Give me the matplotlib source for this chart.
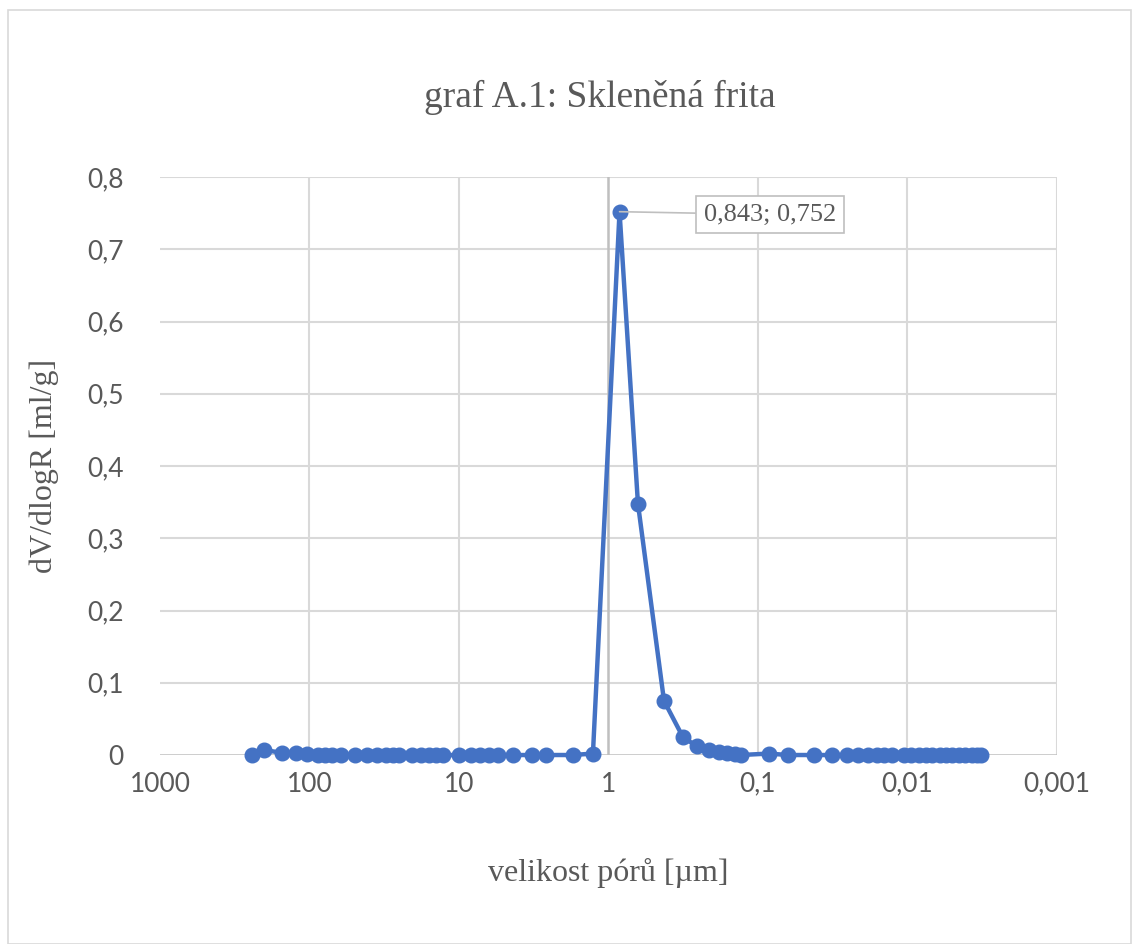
import matplotlib.pyplot as plt
from matplotlib.patches import Rectangle

# pore size [um] and dV/dlogR [ml/g]
velikost = [242.5, 201, 153, 123, 104, 87.7, 78.7, 70.6, 61.5, 49.6,
            41.2, 35.3, 30.8, 27.6, 25.2, 20.6, 17.9, 15.9, 14.3, 12.8,
            10.0, 8.3, 7.24, 6.3, 5.49, 4.35, 3.25, 2.62, 1.73, 1.27,
            0.843, 0.635, 0.425, 0.318, 0.256, 0.213, 0.182, 0.161, 0.1425, 0.130,
            0.0844, 0.063, 0.0422, 0.032, 0.0254, 0.0214, 0.0184, 0.016, 0.0144, 0.0127,
            0.01055, 0.0095, 0.0084, 0.0075, 0.0068, 0.0061, 0.0055, 0.0050, 0.0045, 0.0041,
            0.0037, 0.0034, 0.0032]
dV = [0.0, 0.007, 0.003, 0.003, 0.002, 0.0, 0.0, 0.0, 0.0, 0.0,
      0.0, 0.0, 0.0, 0.0, 0.0, 0.0, 0.0, 0.0, 0.0, 0.0,
      0.0, 0.0, 0.0, 0.0, 0.0, 0.0, 0.0, 0.0, 0.0, 0.002,
      0.752, 0.348, 0.075, 0.025, 0.012, 0.007, 0.004, 0.003, 0.002, 0.0,
      0.002, 0.0, 0.0, 0.0, 0.0, 0.0, 0.0, 0.0, 0.0, 0.0,
      0.0, 0.0, 0.0, 0.0, 0.0, 0.0, 0.0, 0.0, 0.0, 0.0,
      0.0, 0.0, 0.0]

xticks = [1000, 100, 10, 1, 0.1, 0.01, 0.001]
xlabels = ["1000", "100", "10", "1", "0,1", "0,01", "0,001"]
yticks = [0, 0.1, 0.2, 0.3, 0.4, 0.5, 0.6, 0.7, 0.8]
ylabels = ["0", "0,1", "0,2", "0,3", "0,4", "0,5", "0,6", "0,7", "0,8"]

serif = ["Liberation Serif", "DejaVu Serif"]
sans = ["Lato", "DejaVu Sans"]
seda = "#595959"
modra = "#4472C4"

fig = plt.figure(figsize=(11.32, 9.44), dpi=100)
fig.patches.append(Rectangle((0.007, 0.0), 0.992, 0.989, transform=fig.transFigure,
                             fill=False, edgecolor="#d9d9d9", linewidth=1.2))
ax = fig.add_axes([0.1413, 0.2002, 0.7924, 0.6123])

ax.set_xscale("log")
ax.set_xlim(1000, 0.001)
ax.set_ylim(0, 0.8)

for t in [100, 10, 0.1, 0.01, 0.001]:
    ax.axvline(t, color="#d9d9d9", linewidth=1.5, zorder=0)
for t in yticks[1:]:
    ax.axhline(t, color="#d9d9d9", linewidth=1.5, zorder=0)
ax.axvline(1, color="#bfbfbf", linewidth=1.8, zorder=1)
ax.axhline(0, color="#bfbfbf", linewidth=1.8, zorder=1)

ax.plot(velikost, dV, color=modra, linewidth=3.2, marker="o", markersize=10.5,
        zorder=3, clip_on=False)

for s in ax.spines.values():
    s.set_visible(False)
ax.tick_params(length=0)
ax.set_xticks(xticks)
ax.set_xticklabels(xlabels, fontsize=19, color=seda, family=sans)
ax.minorticks_off()
ax.set_yticks(yticks)
ax.set_yticklabels(ylabels, fontsize=19, color=seda, family=sans)
ax.tick_params(axis="x", pad=12)
ax.tick_params(axis="y", pad=26)

ax.set_xlabel("velikost pórů [µm]", fontsize=23, color=seda, family=serif, labelpad=44)
ax.set_ylabel("dV/dlogR [ml/g]", fontsize=23, color=seda, family=serif, labelpad=20)
fig.text(0.530, 0.897, "graf A.1: Skleněná frita", fontsize=27, color=seda,
         family=serif, ha="center", va="center")

ax.annotate("0,843; 0,752", xy=(velikost[30], dV[30]), xytext=(0.083, 0.748),
            fontsize=19, color=seda, family=serif, va="center", ha="center",
            bbox=dict(boxstyle="square,pad=0.3", fc="white", ec="#bfbfbf", lw=1.2),
            arrowprops=dict(arrowstyle="-", color="#bfbfbf", lw=1.2, shrinkA=0, shrinkB=0))

fig.savefig("out.png", dpi=100)
